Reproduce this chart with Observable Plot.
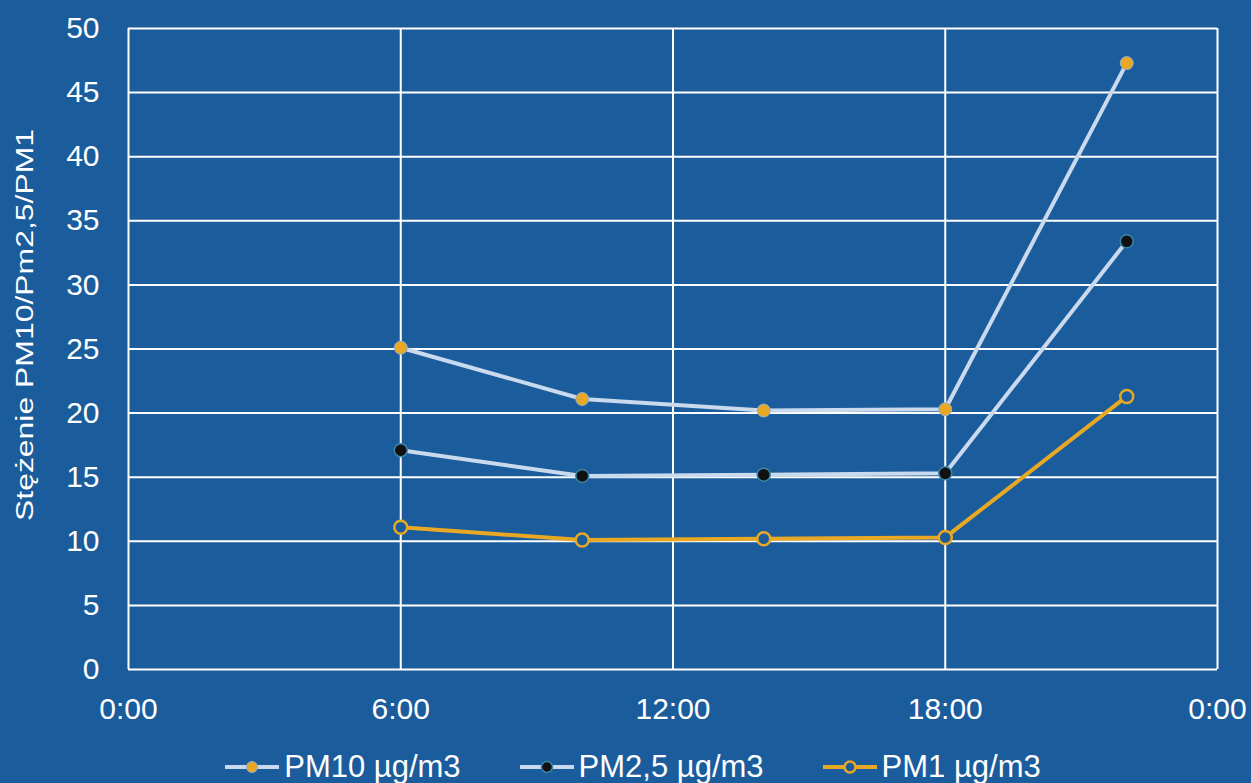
<!DOCTYPE html>
<html>
<head>
<meta charset="utf-8">
<script src="https://cdn.jsdelivr.net/npm/d3@7"></script>
<script src="https://cdn.jsdelivr.net/npm/@observablehq/plot@0.6"></script>
<style>
  html, body { margin: 0; padding: 0; background: #1b5c9c; }
  body { position: relative; width: 1251px; height: 783px; overflow: hidden; }
  #chart { width: 1251px; }
  .legend { position: absolute; top: 750px; left: 7px; width: 1251px; display: flex; justify-content: center; gap: 58px;
    font-family: "Liberation Sans", Arial, sans-serif; font-size: 31px; line-height: 34px; color: #ffffff; }
  .legend .item { display: flex; align-items: center; gap: 4px; }
</style>
</head>
<body>
<div id="chart"></div>
<script>
const hours = [6, 10, 14, 18, 22];
const pm10 = [25.1, 21.1, 20.2, 20.3, 47.3];
const pm25 = [17.1, 15.1, 15.2, 15.3, 33.4];
const pm1 = [11.1, 10.1, 10.2, 10.3, 21.3];
const xTicks = [0, 6, 12, 18, 24];
const xTickLabels = ["0:00", "6:00", "12:00", "18:00", "0:00"];
const yTicks = [0, 5, 10, 15, 20, 25, 30, 35, 40, 45, 50];
const seriesNames = ["PM10 µg/m3", "PM2,5 µg/m3", "PM1 µg/m3"];
const yLabel = "Stężenie PM10/Pm2,5/PM1";

const BG = "#1b5c9c";
const LIGHT = "#c9d9ee";
const ORANGE = "#e9a823";

const toRows = vals => hours.map((h, i) => ({h, v: vals[i]}));
const d10 = toRows(pm10), d25 = toRows(pm25), d1 = toRows(pm1);

const chart = Plot.plot({
  width: 1251,
  height: 730,
  marginLeft: 128,
  marginRight: 34,
  marginTop: 28,
  marginBottom: 61,
  style: {background: "transparent", color: "#ffffff", fontFamily: "Liberation Sans, Arial, sans-serif", fontSize: "30px"},
  x: {domain: [0, 24]},
  y: {domain: [0, 50]},
  marks: [
    Plot.ruleY(yTicks, {stroke: "#ffffff", strokeWidth: 2}),
    Plot.ruleX(xTicks, {stroke: "#ffffff", strokeWidth: 2}),
    Plot.axisX({ticks: xTicks, tickFormat: d => xTickLabels[xTicks.indexOf(d)], tickSize: 0, tickPadding: 28, fontSize: 30, label: null}),
    Plot.axisY({ticks: yTicks, tickSize: 0, tickPadding: 29, fontSize: 30, label: null}),
    Plot.text([yLabel], {frameAnchor: "left", textAnchor: "middle", lineAnchor: "middle", dx: -103, dy: -24, rotate: -90, fontSize: 23, fill: "#ffffff"}),
    Plot.line(d10, {x: "h", y: "v", stroke: LIGHT, strokeWidth: 4}),
    Plot.line(d25, {x: "h", y: "v", stroke: LIGHT, strokeWidth: 4}),
    Plot.line(d1, {x: "h", y: "v", stroke: ORANGE, strokeWidth: 4}),
    Plot.dot(d10, {x: "h", y: "v", r: 6.5, fill: ORANGE, stroke: "#8fb0d0", strokeWidth: 1}),
    Plot.dot(d25, {x: "h", y: "v", r: 6.5, fill: "#111111", stroke: "#3a87a8", strokeWidth: 1.5}),
    Plot.dot(d1, {x: "h", y: "v", r: 6.5, fill: BG, stroke: ORANGE, strokeWidth: 2.5})
  ]
});
document.getElementById("chart").appendChild(chart);

// stretch the y label along its length as in the reference
chart.querySelectorAll("text").forEach(t => {
  if (t.textContent === yLabel) {
    t.setAttribute("textLength", 392);
    t.setAttribute("lengthAdjust", "spacingAndGlyphs");
  }
});

const swatches = [
  {line: LIGHT, fill: ORANGE, stroke: "#8fb0d0", sw: 1},
  {line: LIGHT, fill: "#111111", stroke: "#3a87a8", sw: 1.5},
  {line: ORANGE, fill: BG, stroke: ORANGE, sw: 2.5}
];
const legend = document.createElement("div");
legend.className = "legend";
seriesNames.forEach((name, i) => {
  const s = swatches[i];
  const item = document.createElement("div");
  item.className = "item";
  item.innerHTML = `<svg width="56" height="20"><line x1="1" y1="10" x2="55" y2="10" stroke="${s.line}" stroke-width="4"/><circle cx="28" cy="10" r="5.5" fill="${s.fill}" stroke="${s.stroke}" stroke-width="${s.sw}"/></svg><span>${name}</span>`;
  legend.appendChild(item);
});
document.body.appendChild(legend);
</script>
</body>
</html>
